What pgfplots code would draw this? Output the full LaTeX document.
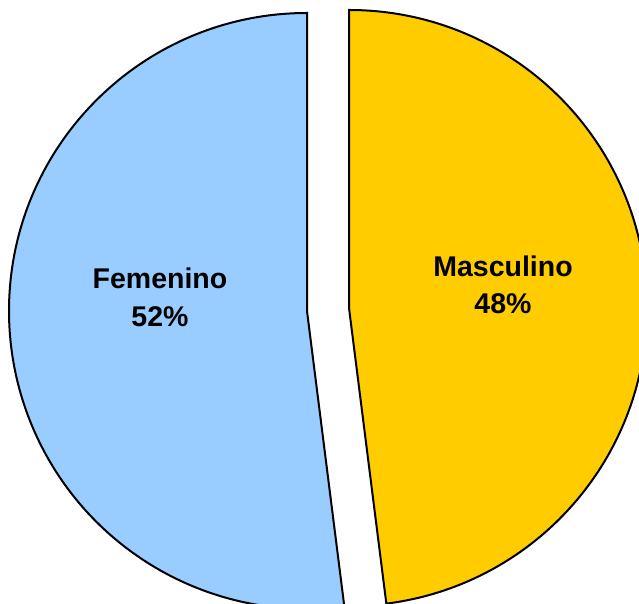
\documentclass[border=0pt]{standalone}
\usepackage{pgfplots}
\pgfplotsset{compat=1.18}
\usepackage{fontspec}
\setmainfont{Liberation Sans}

\definecolor{femblue}{RGB}{153,204,255}
\definecolor{mascyellow}{RGB}{255,204,0}

% share of each group, in percent
\def\valFem{52}
\def\valMasc{48}

\begin{document}
\begin{tikzpicture}
\pgfmathsetmacro{\angFem}{90+\valFem*3.6}
\pgfmathsetmacro{\angMasc}{90-\valMasc*3.6}
\begin{axis}[
  scale only axis,
  width=639pt, height=604pt,
  xmin=0, xmax=639, ymin=0, ymax=604,
  hide axis,
  clip=true,
]
% Femenino slice, pulled out to the left
\filldraw[fill=femblue, draw=black, line width=2pt, line join=miter]
  (axis cs:307,293) -- ++(90:298pt)
  arc[start angle=90, end angle=\angFem, radius=298pt] -- cycle;
% Masculino slice, pulled out to the right
\filldraw[fill=mascyellow, draw=black, line width=2pt, line join=miter]
  (axis cs:349,296) -- ++(90:298pt)
  arc[start angle=90, end angle=\angMasc, radius=298pt] -- cycle;

\node[anchor=base, font=\fontsize{28.5}{34}\selectfont\bfseries] at (axis cs:160,315) {Femenino};
\node[anchor=base, font=\fontsize{28.5}{34}\selectfont\bfseries] at (axis cs:160,277) {\valFem\%};
\node[anchor=base, font=\fontsize{28.5}{34}\selectfont\bfseries] at (axis cs:503,327) {Masculino};
\node[anchor=base, font=\fontsize{28.5}{34}\selectfont\bfseries] at (axis cs:503,290) {\valMasc\%};
\end{axis}
\pgfresetboundingbox
\path[use as bounding box] (current axis.south west) rectangle (current axis.north east);
\end{tikzpicture}
\end{document}
